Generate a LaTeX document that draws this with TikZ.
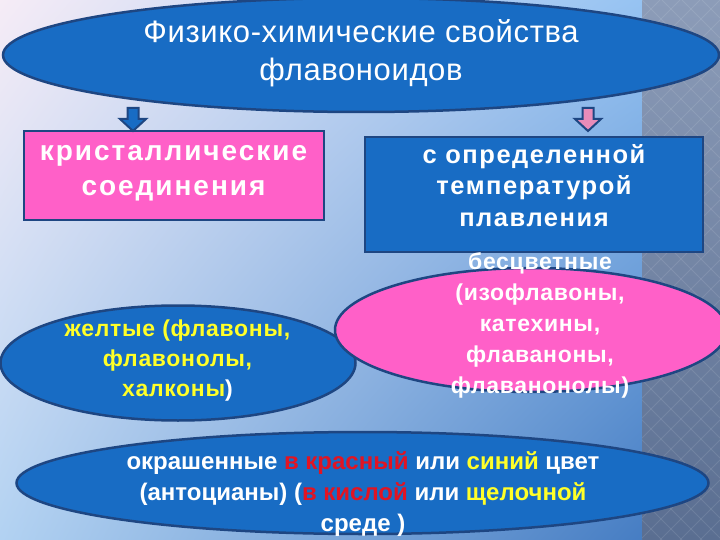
\documentclass[tikz,border=0pt]{standalone}
\usepackage{fontspec}
\setmainfont{Liberation Sans}
\newfontfamily\titlefont[LetterSpace=2]{Liberation Sans}
\newfontfamily\wideA[LetterSpace=7]{Liberation Sans}
\newfontfamily\wideB[LetterSpace=6]{Liberation Sans}
\newfontfamily\wideC[LetterSpace=3]{Liberation Sans}
\usetikzlibrary{shapes.geometric,shadings}
\definecolor{fillblue}{RGB}{24,108,196}
\definecolor{edgeblue}{RGB}{30,70,130}
\definecolor{fillpink}{RGB}{255,96,200}
\definecolor{arrowpink}{RGB}{232,140,185}
\definecolor{txtyellow}{RGB}{255,255,40}
\definecolor{txtred}{RGB}{225,20,35}
\definecolor{bgTL}{RGB}{246,236,246}
\definecolor{bgTR}{RGB}{150,195,242}
\definecolor{bgBL}{RGB}{178,210,242}
\definecolor{bgBR}{RGB}{70,125,195}
\definecolor{stripTop}{RGB}{140,156,184}
\definecolor{stripBot}{RGB}{90,110,145}
\tikzset{
  blueell/.style={ellipse, draw=edgeblue, fill=fillblue, line width=2.5pt, inner sep=0pt},
  pinkell/.style={ellipse, draw=edgeblue, fill=fillpink, line width=2.5pt, inner sep=0pt},
  boxpink/.style={rectangle, draw=edgeblue, fill=fillpink, line width=2.5pt, inner sep=0pt},
  boxblue/.style={rectangle, draw=edgeblue, fill=fillblue, line width=2.5pt, inner sep=0pt},
  txt/.style={align=center, inner sep=0pt, text=white},
  blockarrow/.style={draw=edgeblue, line width=2pt, line join=miter},
}
\begin{document}
\begin{tikzpicture}[x=1pt,y=-1pt]
\useasboundingbox (0,0) rectangle (720,540);
% background
\shade[upper left=bgTL, upper right=bgTR, lower left=bgBL, lower right=bgBR] (0,0) rectangle (642,540);
\shade[top color=stripTop, bottom color=stripBot] (642,0) rectangle (720,540);
\begin{scope}
  \clip (642,0) rectangle (720,540);
  \foreach \k in {-30,...,4} {
    \draw[white, opacity=0.10, line width=1pt] (642+20*\k,0) -- (1182+20*\k,540);
    \draw[white, opacity=0.10, line width=1pt] (720-20*\k,0) -- (180-20*\k,540);
  }
\end{scope}
% top ellipse
\node[blueell, minimum width=716pt, minimum height=114pt] (top) at (361,55) {};
\node[txt, font=\titlefont\fontsize{31}{37.5}\selectfont] (toptext) at (361,53) {Физико-химические свойства\\флавоноидов};
% boxes
\node[boxpink, minimum width=300pt, minimum height=89pt] (crys) at (174,175.5) {};
\node[txt, font=\wideA\bfseries\fontsize{28}{35}\selectfont] (crystext) at (173.5,173) {кристаллические\\соединения};
\node[boxblue, minimum width=338pt, minimum height=115pt] (melt) at (534,194.5) {};
\node[txt, font=\wideB\bfseries\fontsize{25.5}{31.5}\selectfont] (melttext) at (534,185.5) {с определенной\\температурой\\плавления};
% arrows
\coordinate (la) at (133,108);
\coordinate (ra) at (588,108);
\draw[blockarrow, fill=fillblue] (la) ++(-5.5,0) -- ++(11,0) -- ++(0,11) -- ++(7.5,0) -- ++(-13,12) -- ++(-13,-12) -- ++(7.5,0) -- cycle;
\draw[blockarrow, fill=arrowpink] (ra) ++(-5.5,0) -- ++(11,0) -- ++(0,11) -- ++(7.5,0) -- ++(-13,12) -- ++(-13,-12) -- ++(7.5,0) -- cycle;
% left ellipse
\node[blueell, minimum width=355pt, minimum height=115pt] (yellow) at (178,363) {};
\node[txt, text=txtyellow, font=\wideC\bfseries\fontsize{23}{30}\selectfont] (yellowtext) at (177.5,361) {желтые (флавоны,\\флавонолы,\\халконы\textcolor{white}{)}};
% pink ellipse
\node[pinkell, minimum width=392pt, minimum height=124pt] (colorless) at (531,330) {};
\node[txt, font=\wideC\bfseries\fontsize{23}{31}\selectfont] (colorlesstext) at (540,325.5) {бесцветные\\(изофлавоны,\\катехины,\\флаваноны,\\флаванонолы)};
% bottom ellipse
\node[blueell, minimum width=692pt, minimum height=102pt] (antho) at (362.5,483) {};
\node[txt, font=\bfseries\fontsize{24}{30.75}\selectfont] (anthotext) at (363,494) {окрашенные \textcolor{txtred}{в красный} или \textcolor{txtyellow}{синий} цвет\\(антоцианы) (\textcolor{txtred}{в кислой} или \textcolor{txtyellow}{щелочной}\\среде )};
\end{tikzpicture}
\end{document}
